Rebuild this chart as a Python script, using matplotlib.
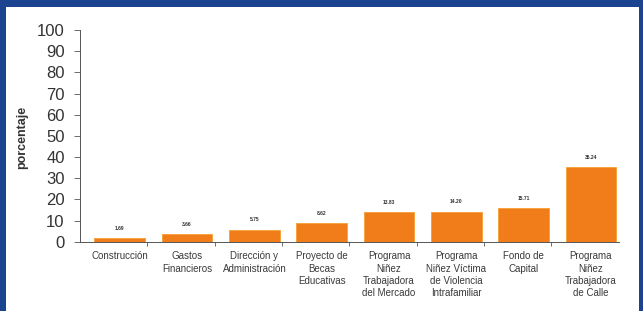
import matplotlib.pyplot as plt
from matplotlib.patches import Rectangle
import numpy as np

plt.rcParams['font.family'] = ['Liberation Sans', 'DejaVu Sans']

# Data
categories = ["Construcción", "Gastos\nFinancieros", "Dirección y\nAdministración",
              "Proyecto de\nBecas\nEducativas", "Programa\nNiñez\nTrabajadora\ndel Mercado",
              "Programa\nNiñez Víctima\nde Violencia\nIntrafamiliar", "Fondo de\nCapital",
              "Programa\nNiñez\nTrabajadora\nde Calle"]
values = [1.69, 3.66, 5.75, 8.62, 13.83, 14.20, 15.71, 35.24]
value_labels = ["1.69", "3.66", "5.75", "8.62", "13.83", "14.20", "15.71", "35.24"]
yticks = list(range(0, 101, 10))

fig = plt.figure(figsize=(6.43, 3.11), dpi=100, facecolor="#1c4390")
# white panel inside blue frame (open at the bottom)
fig.patches.append(Rectangle((6/643, 0), 633/643, 304/311, transform=fig.transFigure,
                             facecolor="white", edgecolor="none", zorder=-10))

ax = fig.add_axes([80/643, 1-241.7/311, 538.6/643, 211.7/311])
ax.set_facecolor("none")

x = np.arange(len(values))
ax.bar(x + 0.09, values, width=0.75, color="#f07d1a", edgecolor="#f5a030", linewidth=0.6)

for xi, v, lab in zip(x, values, value_labels):
    ax.text(xi + 0.09, v + 3.5, lab, ha="center", va="bottom", fontsize=3.6,
            fontweight="bold", color="#333333")

ax.set_xlim(-0.5, 7.5)
ax.set_ylim(0, 100)
ax.set_yticks(yticks)
ax.set_yticklabels([str(t) for t in yticks], fontsize=12, color="#333333")
ax.tick_params(axis="y", direction="out", length=4, width=0.6, color="#555555", pad=7)

# category labels centered, ticks at boundaries
ax.set_xticks(np.arange(0.5, 7.5, 1.0))
ax.set_xticklabels([])
ax.tick_params(axis="x", direction="out", length=3, width=0.6, color="#555555")
for xi, c in zip(x, categories):
    ax.text(xi + 0.09, -4.5, c, ha="center", va="top", fontsize=7, color="#3a3a3a",
            linespacing=1.3)

for s in ["top", "right"]:
    ax.spines[s].set_visible(False)
for s in ["left", "bottom"]:
    ax.spines[s].set_color("#555555")
    ax.spines[s].set_linewidth(0.7)

fig.text(22/643, 1-137/311, "porcentaje", rotation=90, ha="center", va="center",
         fontsize=9, fontweight="bold", color="#333333")

fig.savefig("out.png", dpi=100, facecolor=fig.get_facecolor())
